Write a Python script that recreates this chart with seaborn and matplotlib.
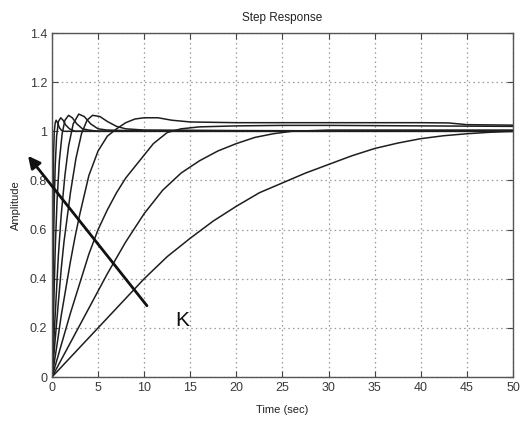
import matplotlib
matplotlib.use("Agg")
import matplotlib.pyplot as plt
import numpy as np
import pandas as pd
import seaborn as sns

# Step responses for increasing gain K (fastest first)
k1_t = [0, 0.03, 0.07, 0.12, 0.18, 0.25, 0.35, 0.45, 0.6, 0.8, 1.0, 1.3, 1.8, 50]
k1_y = [0, 0.25, 0.5, 0.75, 0.92, 1.0, 1.035, 1.045, 1.035, 1.015, 1.005, 1.0, 1.0, 1.0]

k2_t = [0, 0.08, 0.15, 0.25, 0.35, 0.5, 0.7, 0.95, 1.2, 1.5, 1.9, 2.5, 3.5, 50]
k2_y = [0, 0.28, 0.5, 0.72, 0.86, 0.98, 1.04, 1.055, 1.045, 1.025, 1.01, 1.0, 1.0, 1.0]

k3_t = [0, 0.15, 0.35, 0.55, 0.8, 1.1, 1.4, 1.8, 2.2, 2.7, 3.3, 4, 5, 50]
k3_y = [0, 0.23, 0.52, 0.72, 0.88, 0.99, 1.045, 1.065, 1.055, 1.03, 1.01, 1.005, 1.0, 1.0]

k4_t = [0, 0.3, 0.7, 1.0, 1.4, 1.8, 2.3, 2.9, 3.5, 4.2, 5, 6, 8, 50]
k4_y = [0, 0.22, 0.5, 0.66, 0.82, 0.94, 1.03, 1.07, 1.06, 1.03, 1.01, 1.005, 1.003, 1.0]

k5_t = [0, 0.5, 1.0, 1.3, 2.0, 2.6, 3.2, 3.8, 4.4, 5.2, 6, 7, 8, 10, 20, 50]
k5_y = [0, 0.22, 0.44, 0.55, 0.75, 0.89, 0.99, 1.045, 1.065, 1.06, 1.04, 1.02, 1.01, 1.005, 1.003, 1.0]

k6_t = [0, 0.5, 1, 1.5, 2, 2.5, 3, 4, 5, 6, 7, 8, 9, 10, 11.5, 13, 15, 20, 30, 40, 43, 45, 50]
k6_y = [0, 0.12, 0.25, 0.36, 0.47, 0.57, 0.66, 0.82, 0.92, 0.98, 1.01, 1.035, 1.05, 1.055,
        1.055, 1.045, 1.038, 1.035, 1.035, 1.035, 1.034, 1.027, 1.025]

k7_t = [0, 1, 2, 3, 4, 5, 6, 7, 8, 9.5, 11, 12.5, 14, 16, 20, 25, 30, 40, 50]
k7_y = [0, 0.13, 0.26, 0.38, 0.5, 0.6, 0.68, 0.75, 0.81, 0.88, 0.95, 0.995, 1.01, 1.018,
        1.022, 1.024, 1.024, 1.022, 1.02]

k8_t = [0, 2, 4, 6, 8, 10, 12, 14, 16, 18, 20, 22, 24, 26, 30, 40, 50]
k8_y = [0, 0.14, 0.28, 0.42, 0.55, 0.665, 0.76, 0.83, 0.88, 0.92, 0.95, 0.975, 0.99,
        1.0, 1.005, 1.005, 1.005]

k9_t = [0, 2.5, 5, 7.5, 10, 12.5, 15, 17.5, 20, 22.5, 25, 27.5, 30, 32.5, 35, 37.5,
        40, 42.5, 45, 47.5, 50]
k9_y = [0, 0.1, 0.2, 0.3, 0.4, 0.49, 0.565, 0.635, 0.695, 0.75, 0.79, 0.83, 0.865,
        0.9, 0.93, 0.952, 0.97, 0.982, 0.99, 0.996, 1.0]

x_ticks = [0, 5, 10, 15, 20, 25, 30, 35, 40, 45, 50]
y_ticks = [0, 0.2, 0.4, 0.6, 0.8, 1.0, 1.2, 1.4]
y_tick_labels = ["0", "0.2", "0.4", "0.6", "0.8", "1", "1.2", "1.4"]

curves = [(k1_t, k1_y), (k2_t, k2_y), (k3_t, k3_y), (k4_t, k4_y), (k5_t, k5_y),
          (k6_t, k6_y), (k7_t, k7_y), (k8_t, k8_y), (k9_t, k9_y)]

frames = []
for i, (t, y) in enumerate(curves):
    frames.append(pd.DataFrame({"t": t, "amp": y, "curve": i}))
df = pd.concat(frames, ignore_index=True)

sns.set_style("white")
plt.rcParams["font.family"] = ["Liberation Sans", "DejaVu Sans"]

fig = plt.figure(figsize=(5.21, 4.32), dpi=100)
ax = fig.add_axes([0.0998, 0.1273, 0.8848, 0.7963])

sns.lineplot(data=df, x="t", y="amp", units="curve", estimator=None, sort=False,
             color="#1e1e1e", linewidth=1.1, ax=ax, legend=False)

ax.set_xlim(0, 50)
ax.set_ylim(0, 1.4)
ax.set_xticks(x_ticks)
ax.set_yticks(y_ticks)
ax.set_yticklabels(y_tick_labels)
ax.grid(True, linestyle=(0, (1.2, 2.5)), color="#9a9a9a", linewidth=0.9)
ax.tick_params(direction="in", length=4, width=0.8, color="#444444",
               labelsize=9, labelcolor="#3a3a3a", top=True, right=True,
               bottom=True, left=True)
for sp in ax.spines.values():
    sp.set_color("#555555")
    sp.set_linewidth(1.0)

ax.set_title("Step Response", fontsize=8.5, color="#222222", pad=9)
ax.set_xlabel("Time (sec)", fontsize=8, color="#222222", labelpad=8)
ax.set_ylabel("Amplitude", fontsize=8, color="#222222", labelpad=6)

ax.annotate("", xy=(-2.6, 0.9), xytext=(10.3, 0.29),
            arrowprops=dict(arrowstyle="-|>", color="#111111", lw=2.0,
                            mutation_scale=18, shrinkA=0, shrinkB=0),
            annotation_clip=False)
ax.text(14.1, 0.228, "K", fontsize=15, color="#111111", ha="center", va="center")

fig.savefig("out.png", dpi=100)
